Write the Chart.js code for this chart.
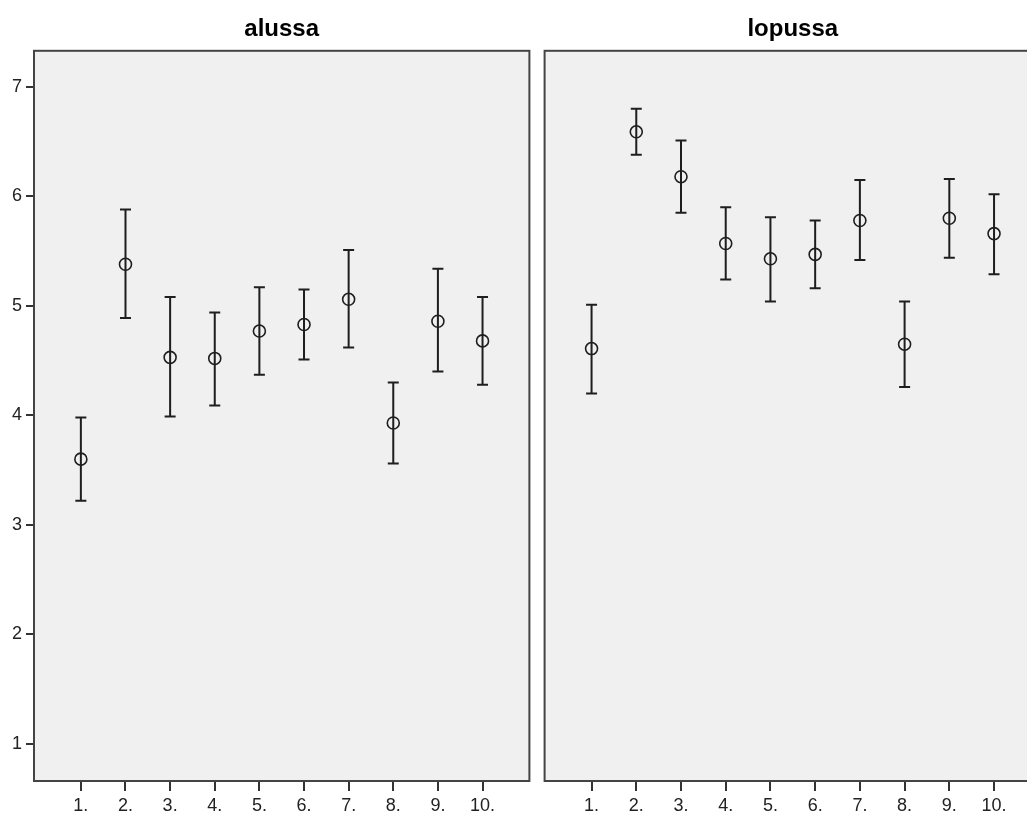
<!DOCTYPE html>
<html>
<head>
<meta charset="utf-8">
<title>alussa / lopussa</title>
<script src="https://cdn.jsdelivr.net/npm/chart.js@4.4.1/dist/chart.umd.min.js"></script>
<style>
  html, body { margin: 0; padding: 0; background: #fff; overflow: hidden; }
  #wrap { position: relative; width: 1027px; height: 814px; overflow: hidden; }
  canvas { position: absolute; top: 0; }
  #left-chart { left: 0; }
  #right-chart { left: 537px; }
</style>
</head>
<body>
<div id="wrap">
  <canvas id="left-chart" width="537" height="814"></canvas>
  <canvas id="right-chart" width="513" height="814"></canvas>
</div>
<script>
const categories = ["1.", "2.", "3.", "4.", "5.", "6.", "7.", "8.", "9.", "10."];
const yTicks = [1, 2, 3, 4, 5, 6, 7];

// alussa: mean and confidence interval ends
const alussaMean = [3.60, 5.38, 4.53, 4.52, 4.77, 4.83, 5.06, 3.93, 4.86, 4.68];
const alussaLow  = [3.22, 4.89, 3.99, 4.09, 4.37, 4.51, 4.62, 3.56, 4.40, 4.28];
const alussaHigh = [3.98, 5.88, 5.08, 4.94, 5.17, 5.15, 5.51, 4.30, 5.34, 5.08];

// lopussa
const lopussaMean = [4.61, 6.59, 6.18, 5.57, 5.43, 5.47, 5.78, 4.65, 5.80, 5.66];
const lopussaLow  = [4.20, 6.38, 5.85, 5.24, 5.04, 5.16, 5.42, 4.26, 5.44, 5.29];
const lopussaHigh = [5.01, 6.80, 6.51, 5.90, 5.81, 5.78, 6.15, 5.04, 6.16, 6.02];

const fontFamily = 'Arial, "Liberation Sans", sans-serif';
const ink = '#1e1e1e';

// grey plot area, frame and the error bars
const panelPlugin = {
    id: 'panel',
    beforeDraw(chart) {
        const a = chart.chartArea, ctx = chart.ctx;
        ctx.save();
        ctx.fillStyle = '#f0f0f0';
        ctx.fillRect(a.left, a.top, a.right - a.left, a.bottom - a.top);
        ctx.restore();
    },
    afterDatasetsDraw(chart) {
        const a = chart.chartArea, ctx = chart.ctx;
        const xs = chart.scales.x, ys = chart.scales.y;
        ctx.save();
        ctx.strokeStyle = ink;
        ctx.lineWidth = 2;
        chart.data.datasets.forEach(ds => {
            ds.errLow.forEach((lo, i) => {
                const x = xs.getPixelForValue(i + 1);
                const y1 = ys.getPixelForValue(lo);
                const y2 = ys.getPixelForValue(ds.errHigh[i]);
                ctx.beginPath();
                ctx.moveTo(x, y1); ctx.lineTo(x, y2);
                ctx.moveTo(x - 5.5, y1); ctx.lineTo(x + 5.5, y1);
                ctx.moveTo(x - 5.5, y2); ctx.lineTo(x + 5.5, y2);
                ctx.stroke();
            });
        });
        ctx.strokeStyle = '#444';
        ctx.lineWidth = 2;
        ctx.strokeRect(a.left, a.top, a.right - a.left, a.bottom - a.top);
        ctx.restore();
    }
};

function makeOptions(title, showY) {
    return {
        responsive: false,
        animation: false,
        layout: { padding: { left: showY ? 0 : 7, right: showY ? 6 : 9, top: 0, bottom: 0 } },
        plugins: {
            legend: { display: false },
            tooltip: { enabled: false },
            title: {
                display: true,
                text: title,
                fullSize: false,
                color: '#000',
                font: { family: fontFamily, size: 24, weight: 'bold' },
                padding: { top: 15, bottom: 7 }
            }
        },
        scales: {
            x: {
                type: 'linear',
                min: -0.05,
                max: 11.05,
                afterBuildTicks: s => { s.ticks = categories.map((c, i) => ({ value: i + 1 })); },
                afterFit: s => { s.height = 33; },
                ticks: {
                    callback: v => categories[v - 1],
                    autoSkip: false,
                    maxRotation: 0,
                    padding: 4,
                    color: '#222',
                    font: { family: fontFamily, size: 18 }
                },
                grid: { drawOnChartArea: false, drawTicks: true, tickLength: 10, color: '#333', lineWidth: 2 },
                border: { display: false }
            },
            y: {
                display: showY,
                min: 0.66,
                max: 7.33,
                afterBuildTicks: s => { s.ticks = yTicks.map(v => ({ value: v })); },
                afterFit: s => { s.width = showY ? 34 : 0; },
                ticks: {
                    padding: 4,
                    color: '#222',
                    font: { family: fontFamily, size: 18 }
                },
                grid: { drawOnChartArea: false, drawTicks: true, tickLength: 8, color: '#333', lineWidth: 2 },
                border: { display: false }
            }
        }
    };
}

function makeData(mean, low, high) {
    return {
        datasets: [{
            data: mean.map((m, i) => ({ x: i + 1, y: m })),
            errLow: low,
            errHigh: high,
            showLine: false,
            pointStyle: 'circle',
            pointRadius: 6,
            pointBorderWidth: 1.6,
            pointBackgroundColor: 'rgba(0,0,0,0)',
            pointBorderColor: ink
        }]
    };
}

const leftChart = document.getElementById("left-chart");
var CHART1 = new Chart(leftChart, {
    type: 'scatter',
    data: makeData(alussaMean, alussaLow, alussaHigh),
    options: makeOptions('alussa', true),
    plugins: [panelPlugin]
});

const rightChart = document.getElementById("right-chart");
var CHART2 = new Chart(rightChart, {
    type: 'scatter',
    data: makeData(lopussaMean, lopussaLow, lopussaHigh),
    options: makeOptions('lopussa', false),
    plugins: [panelPlugin]
});
</script>
</body>
</html>
